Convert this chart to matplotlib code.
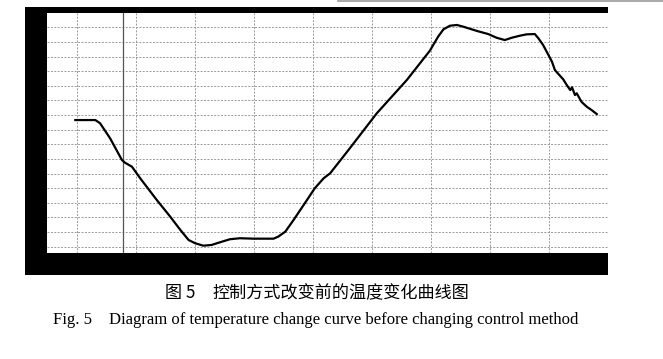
import matplotlib.pyplot as plt
from matplotlib.lines import Line2D

# curve, in grid units (x: vertical grid index, y: horizontal grid index)
time_pts = [-0.03, 0.31, 0.39, 0.56, 0.76, 0.81, 0.93, 1.07, 1.35, 1.58, 1.75, 1.89,
            2.00, 2.14, 2.28, 2.42, 2.59, 2.76, 2.99, 3.33, 3.41, 3.53, 3.67,
            3.84, 4.03, 4.18, 4.29, 4.60, 5.08, 5.59, 5.98, 6.12, 6.21, 6.32,
            6.44, 6.55, 6.78, 6.97, 7.11, 7.25, 7.37, 7.51, 7.62, 7.76, 7.82, 7.90,
            7.99, 8.05, 8.10, 8.19, 8.24, 8.30, 8.36, 8.39, 8.44, 8.47, 8.55, 8.64,
            8.72, 8.81]
temp_pts = [8.66, 8.66, 8.44, 7.41, 5.93, 5.75, 5.47, 4.68, 3.20, 2.05, 1.15, 0.46,
            0.24, 0.07, 0.12, 0.30, 0.51, 0.58, 0.55, 0.55, 0.69, 1.03, 1.83,
            2.85, 4.00, 4.68, 5.02, 6.61, 9.12, 11.40, 13.40, 14.36, 14.86, 15.11,
            15.16, 15.04, 14.75, 14.54, 14.29, 14.13, 14.29, 14.43, 14.52, 14.54, 14.25, 13.79,
            13.11, 12.65, 12.08, 11.67, 11.45, 11.06, 10.71, 10.90, 10.37, 10.49, 9.91, 9.57,
            9.35, 9.07]

x_grid = list(range(0, 9))
y_grid = list(range(0, 16))
cursor_x = 0.775

title_cn_fig = "图 5"
title_cn = "控制方式改变前的温度变化曲线图"
title_en_fig = "Fig. 5"
title_en = "Diagram of temperature change curve before changing control method"

W, H = 663, 359
fig = plt.figure(figsize=(W / 100, H / 100), dpi=100)


def box(x0, y0, x1, y1):
    # pixel box (top-left origin) -> figure fraction rect
    return [x0 / W, 1 - y1 / H, (x1 - x0) / W, (y1 - y0) / H]


# black instrument frame
frame = fig.add_axes(box(25, 7, 608, 275))
frame.set_facecolor("black")
frame.set_xticks([])
frame.set_yticks([])
for s in frame.spines.values():
    s.set_visible(False)

ax = fig.add_axes(box(47, 12.7, 608, 253.3))
ax.set_facecolor("white")
ax.set_xlim(-0.51, 9.0)
ax.set_ylim(-0.45, 16.0)
ax.set_xticks([])
ax.set_yticks([])
for s in ax.spines.values():
    s.set_visible(False)

for gx in x_grid:
    ax.axvline(gx, color="#9a9a9a", lw=0.7, ls=(0, (2, 1.5)), zorder=1)
for gy in y_grid:
    ax.axhline(gy, color="#9a9a9a", lw=0.7, ls=(0, (2, 1.5)), zorder=1)
ax.axvline(cursor_x, color="#555555", lw=0.9, zorder=1)

ax.plot(time_pts, temp_pts, color="black", lw=1.6, zorder=3)

# thin scan line at the top right
fig.add_artist(Line2D([338 / W, 1.0], [1 - 1 / H, 1 - 1 / H], color="#999999", lw=1.2))

cn_fonts = ["Noto Sans CJK SC", "DejaVu Sans"]
fig.text(165 / W, 1 - 293 / H, title_cn_fig, family=cn_fonts, fontsize=12.3, va="center", ha="left")
fig.text(212 / W, 1 - 293 / H, title_cn, family=cn_fonts, fontsize=12.3, va="center", ha="left")
fig.text(53 / W, 1 - 320 / H, title_en_fig, family="Liberation Serif", fontsize=12, va="center", ha="left")
fig.text(109 / W, 1 - 320 / H, title_en, family="Liberation Serif", fontsize=12, va="center", ha="left")

fig.savefig("out.png", dpi=100)
